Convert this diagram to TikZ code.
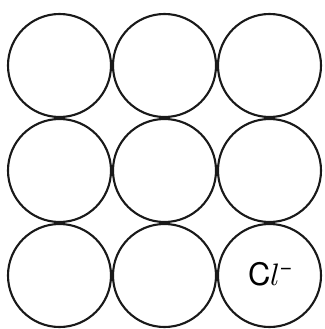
\documentclass[tikz,border=0pt]{standalone}
\usepackage{fontspec}
\setmainfont{TeX Gyre Heros}
\usepackage{unicode-math}
\setmathfont{Latin Modern Math}
\begin{document}
\begin{tikzpicture}[x=1pt,y=-1pt,
  ion/.style={circle,draw=black!90,line width=2.1pt,minimum size=103pt,inner sep=0pt},
  lbl/.style={font=\fontsize{31}{33}\selectfont,inner sep=0pt}]
\useasboundingbox (0,0) rectangle (324,329);
\foreach \i/\x in {1/59.5,2/164.5,3/269.5}{
  \foreach \j/\y in {1/65.5,2/170.5,3/275.5}{
    \node[ion] (c\i\j) at (\x,\y) {};
  }
}
\node[lbl] (cl) at ([xshift=1pt,yshift=1pt]c33.center) {C$l$\textsuperscript{−}};
\end{tikzpicture}
\end{document}
